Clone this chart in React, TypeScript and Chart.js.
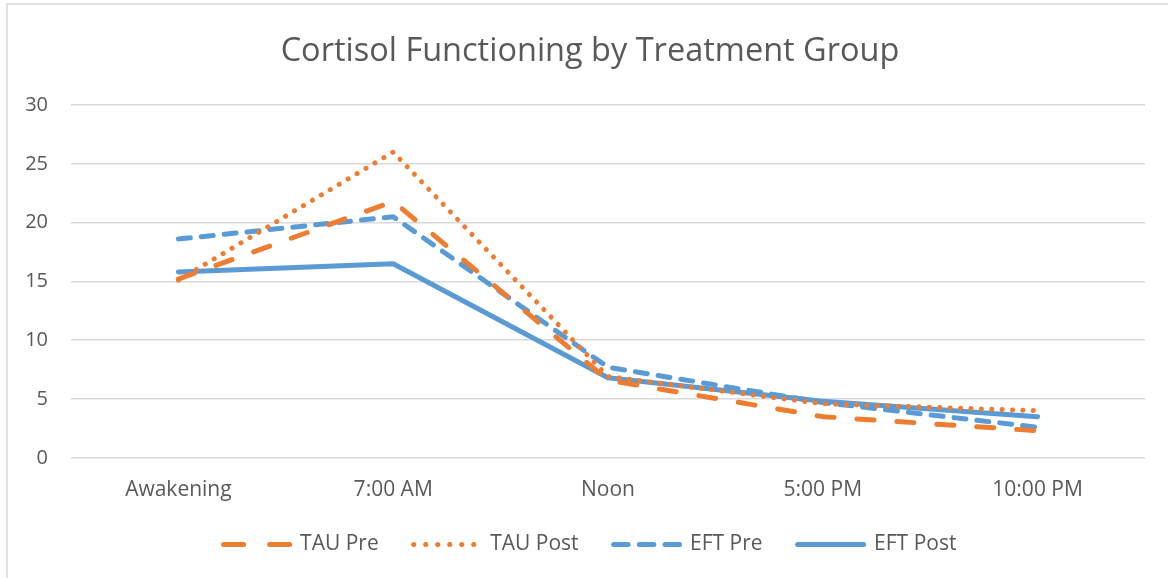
import React, { useEffect, useRef } from "react";
import { Chart, registerables } from "chart.js";

Chart.register(...registerables);

const categories = ["Awakening", "7:00 AM", "Noon", "5:00 PM", "10:00 PM"];
const tauPre = [15.2, 21.8, 6.6, 3.5, 2.3];
const tauPost = [15.1, 26.0, 6.9, 4.6, 4.0];
const eftPre = [18.6, 20.5, 7.7, 4.7, 2.6];
const eftPost = [15.8, 16.5, 6.8, 4.8, 3.5];
const yTicks = [0, 5, 10, 15, 20, 25, 30];

const ORANGE = "#ED7D31";
const BLUE = "#5B9BD5";
const TEXT = "#595959";
const FONT = "'Open Sans', 'Liberation Sans', sans-serif";
const X_SHRINK = 16;

const borderPlugin = {
  id: "frame",
  beforeDraw(chart: any) {
    const ctx = chart.ctx;
    ctx.save();
    ctx.fillStyle = "#ffffff";
    ctx.fillRect(0, 0, chart.width, chart.height);
    ctx.strokeStyle = "#D9D9D9";
    ctx.lineWidth = 1.5;
    ctx.strokeRect(7, 4, chart.width + 20, chart.height + 20);
    ctx.restore();
  },
  afterLayout(chart: any) {
    const x = chart.scales.x;
    if (x) {
      x.bottom += X_SHRINK;
      x.height += X_SHRINK;
    }
  },
};

export default function App() {
  const ref = useRef<HTMLCanvasElement>(null);
  useEffect(() => {
    document.body.style.margin = "0";
    const ds = [
      { label: "TAU Pre", data: tauPre, color: ORANGE, dash: [17, 23], legendDash: [20, 26] },
      { label: "TAU Post", data: tauPost, color: ORANGE, dash: [0.1, 10.3], legendDash: [0.1, 11.9] },
      { label: "EFT Pre", data: eftPre, color: BLUE, dash: [12, 11], legendDash: [14.5, 11.25] },
      { label: "EFT Post", data: eftPost, color: BLUE, dash: [] as number[], legendDash: [] as number[] },
    ];
    const chart = new Chart(ref.current!, {
      type: "line",
      data: {
        labels: categories,
        datasets: ds.map((d) => ({
          label: d.label,
          data: d.data,
          borderColor: d.color,
          backgroundColor: d.color,
          borderWidth: 5,
          borderDash: d.dash,
          borderCapStyle: "round",
          borderJoinStyle: "round",
          pointRadius: 0,
          tension: 0,
          fill: false,
          yAxisID: "y",
        })),
      },
      options: {
        animation: false,
        responsive: false,
        maintainAspectRatio: false,
        layout: { padding: { left: 24, right: 12, top: 10, bottom: 13 } },
        plugins: {
          title: {
            display: true,
            text: "Cortisol Functioning by Treatment Group",
            color: TEXT,
            font: { family: FONT, size: 32.5, weight: "400" as any },
            padding: { top: 22, bottom: 34 },
          },
          legend: {
            position: "bottom",
            labels: {
              color: TEXT,
              font: { family: FONT, size: 21 },
              usePointStyle: true,
              pointStyleWidth: 66,
              boxHeight: 21,
              padding: 35,
              generateLabels: (c: any) =>
                c.data.datasets.map((d: any, i: number) => ({
                  text: d.label,
                  fillStyle: "rgba(0,0,0,0)",
                  strokeStyle: d.borderColor,
                  lineWidth: 5,
                  lineDash: ds[i].legendDash,
                  lineCap: "round",
                  pointStyle: "line",
                  fontColor: TEXT,
                  datasetIndex: i,
                  hidden: false,
                })),
            },
          },
          tooltip: { enabled: false },
        },
        scales: {
          x: {
            offset: true,
            grid: { display: false },
            border: { display: false },
            ticks: { color: TEXT, font: { family: FONT, size: 21 }, padding: 12 },
            afterFit: (scale: any) => {
              scale.height -= X_SHRINK;
            },
          },
          y: {
            position: "left",
            min: 0,
            max: 30,
            grid: { color: "#D9D9D9", lineWidth: 1.5, drawTicks: false },
            border: { display: false },
            afterBuildTicks: (axis: any) => {
              axis.ticks = yTicks.map((v) => ({ value: v }));
            },
            afterFit: (scale: any) => {
              scale.width = 47;
            },
            ticks: { color: TEXT, font: { family: FONT, size: 20 }, padding: 23 },
          },
          yRight: {
            position: "right",
            min: 0,
            max: 30,
            grid: { display: false, drawTicks: false },
            border: { display: false },
            ticks: { display: false },
            afterFit: (scale: any) => {
              scale.width = 11;
            },
          },
        },
      },
      plugins: [borderPlugin],
    });
    return () => chart.destroy();
  }, []);
  return (
    <div style={{ width: 1168, height: 578 }}>
      <canvas ref={ref} width={1168} height={578} style={{ display: "block" }} />
    </div>
  );
}
